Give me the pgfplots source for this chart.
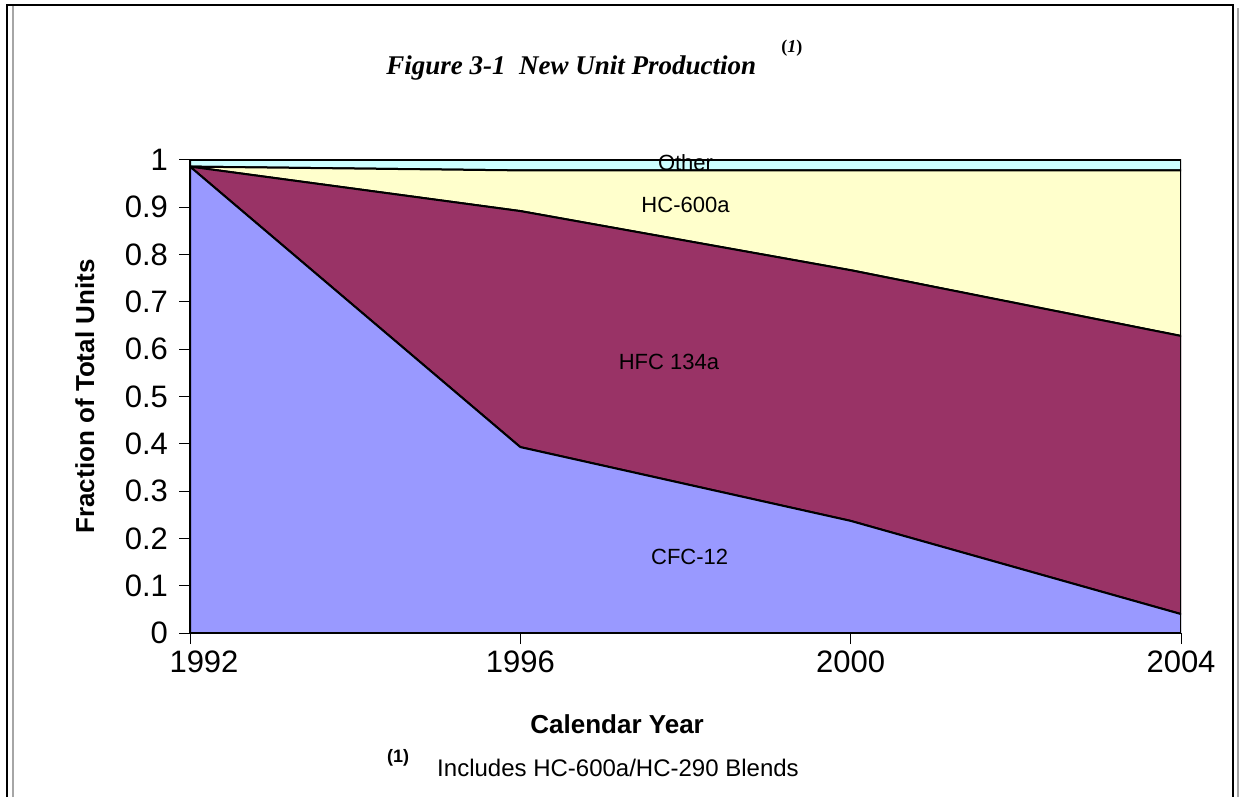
\documentclass[border=0pt]{standalone}
\usepackage{fontspec}
\setmainfont{Liberation Sans}
\newfontfamily\serifbi{Liberation Serif}
\usepackage{pgfplots}
\pgfplotsset{compat=1.18}

\definecolor{cfc}{HTML}{9999FF}
\definecolor{hfc}{HTML}{993366}
\definecolor{hcsix}{HTML}{FFFFCC}
\definecolor{other}{HTML}{CCFFFF}

% stacked shares of new units by refrigerant
\pgfplotstableread{
year cfc hfc hc other
1992 0.986 0.000 0.000 0.014
1996 0.393 0.499 0.086 0.022
2000 0.237 0.530 0.211 0.022
2004 0.040 0.588 0.350 0.022
}\shares

\begin{document}
\begin{tikzpicture}
\useasboundingbox (0,0) rectangle (620pt,398.5pt);
% page frame
\draw[gray!70, line width=1pt] (6.5pt,0) -- (6.5pt,396pt);
\draw[gray!70, line width=1.2pt] (619pt,0) -- (619pt,394.5pt);
\draw[black, line width=0.8pt] (3.5pt,0) -- (3.5pt,396pt) -- (616.5pt,396pt) -- (616.5pt,0);

% title
\node[anchor=base west, inner sep=0, font=\serifbi\bfseries\itshape\fontsize{13.5}{16}\selectfont]
  at (193pt,361pt) {Figure 3-1\ \ New Unit Production};
\node[anchor=base west, inner sep=0, font=\serifbi\bfseries\fontsize{9}{11}\selectfont]
  at (390.5pt,372pt) {(\textit{1})};

\begin{axis}[
  at={(95pt,82pt)}, anchor=south west,
  scale only axis, width=495.5pt, height=236.5pt,
  xmin=1992, xmax=2004, ymin=0, ymax=1,
  axis x line*=bottom, axis y line*=left,
  axis line style={line width=1pt},
  xtick={1992,1996,2000,2004},
  xticklabels={\hspace{14pt}1992,1996,2000,2004},
  ytick={0,0.1,0.2,0.3,0.4,0.5,0.6,0.7,0.8,0.9,1},
  tick align=outside, major tick length=5.5pt,
  tick style={black, line width=0.5pt},
  ticklabel style={font=\fontsize{15.5}{18}\selectfont},
  /pgf/number format/assume math mode=true,
  yticklabel style={/pgf/number format/fixed, xshift=-2pt},
  xlabel={Calendar Year},
  xlabel style={font=\bfseries\fontsize{13}{15}\selectfont, at={(axis description cs:0.431,-0.192)}, anchor=center},
  ylabel={Fraction of Total Units},
  ylabel style={font=\bfseries\fontsize{13}{15}\selectfont, at={(axis description cs:-0.106,0.5)}, anchor=center},
  stack plots=y,
]
\addplot[fill=cfc, draw=black, line width=1pt] table[x=year, y=cfc] {\shares} \closedcycle;
\addplot[fill=hfc, draw=black, line width=1pt] table[x=year, y=hfc] {\shares} \closedcycle;
\addplot[fill=hcsix, draw=black, line width=1pt] table[x=year, y=hc] {\shares} \closedcycle;
\addplot[fill=other, draw=black, line width=1pt] table[x=year, y=other] {\shares} \closedcycle;

\coordinate (lOther) at (axis cs:1998.0,0.994);
\coordinate (lHC) at (axis cs:1998.0,0.905);
\coordinate (lHFC) at (axis cs:1997.8,0.573);
\coordinate (lCFC) at (axis cs:1998.05,0.161);
\end{axis}

% series names inside the areas
\begin{scope}[every node/.style={font=\fontsize{11}{13}\selectfont}]
\node at (lOther) {Other};
\node at (lHC) {HC-600a};
\node at (lHFC) {HFC 134a};
\node at (lCFC) {CFC-12};
\end{scope}

% footnote
\node[font=\bfseries\fontsize{9}{11}\selectfont] at (199pt,19.5pt) {(1)};
\node[font=\fontsize{12}{14}\selectfont] at (309pt,14.5pt) {Includes HC-600a/HC-290 Blends};
\end{tikzpicture}
\end{document}
